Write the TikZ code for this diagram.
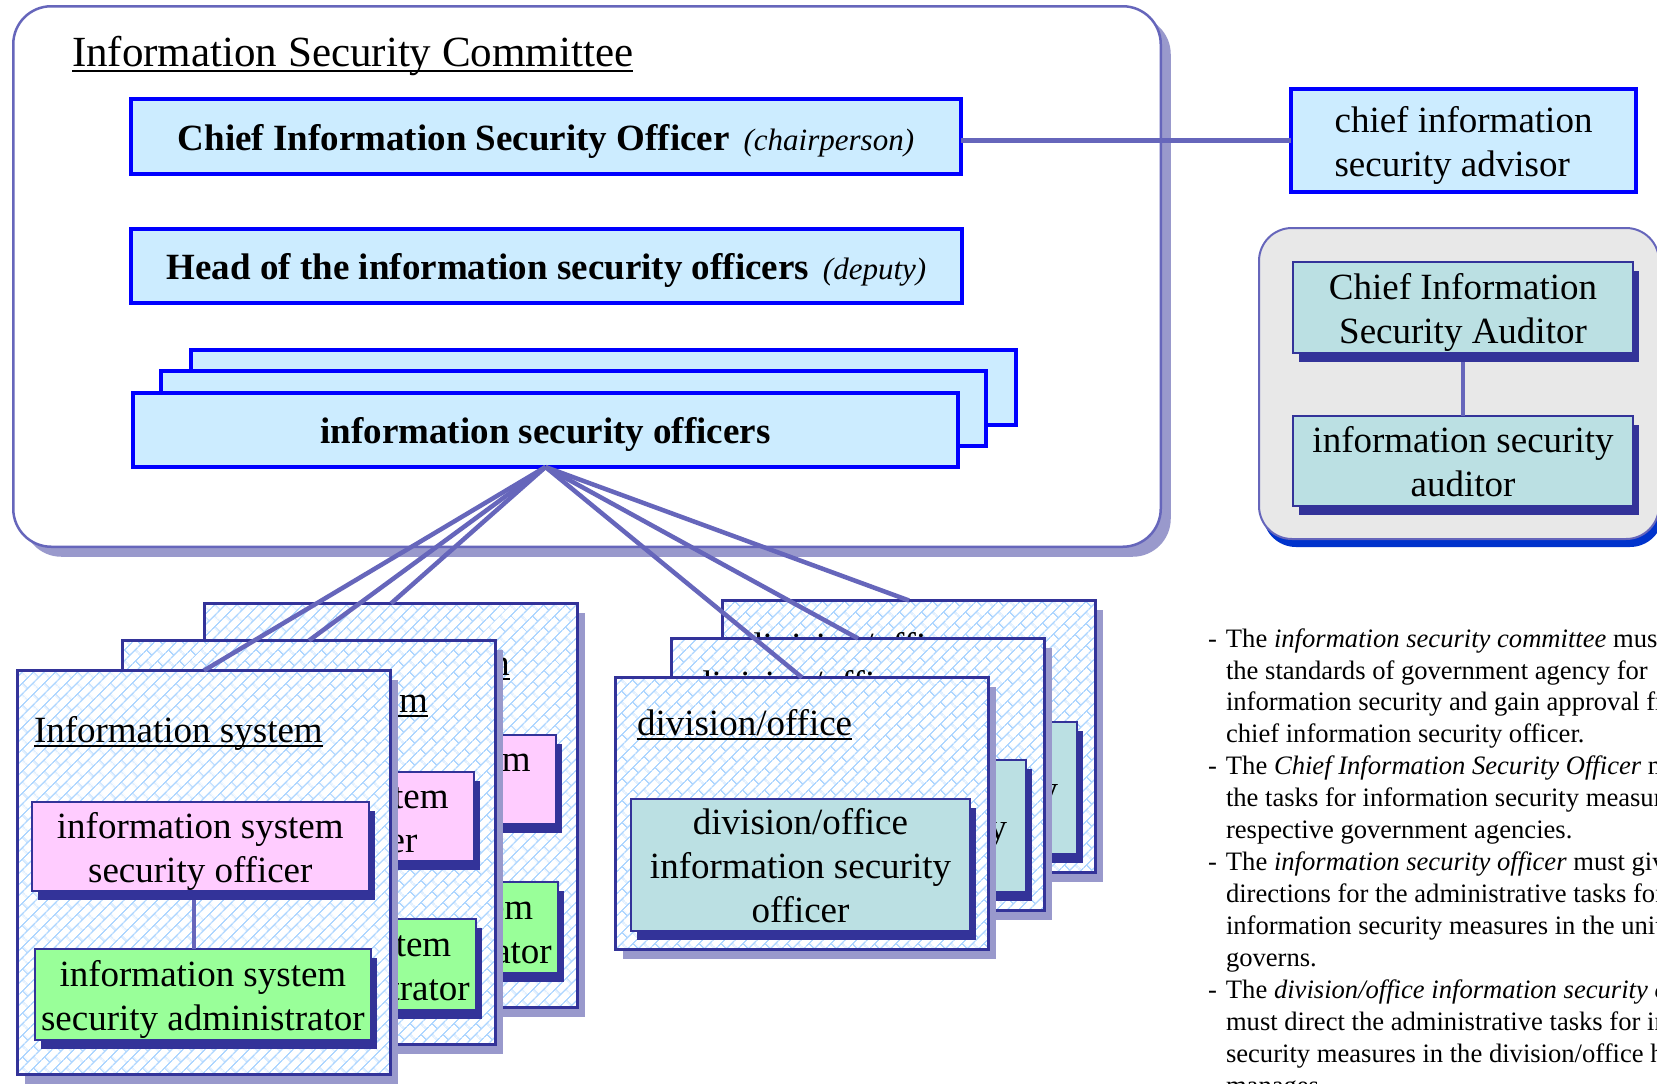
\documentclass[tikz,border=0pt]{standalone}
\usepackage{fontspec}
\setmainfont{Liberation Serif}
\usetikzlibrary{shadows,patterns.meta}

\definecolor{linkline}{HTML}{6666BB}
\definecolor{paleshade}{HTML}{9999CC}
\definecolor{navy}{HTML}{333399}
\definecolor{pureblue}{HTML}{0000FF}
\definecolor{skyfill}{HTML}{CCECFF}
\definecolor{tealfill}{HTML}{BBE0E3}
\definecolor{pinkfill}{HTML}{FFCCFF}
\definecolor{greenfill}{HTML}{99FF99}
\definecolor{greyfill}{HTML}{E8E8E8}
\definecolor{hatchblue}{HTML}{AED6FF}
\definecolor{deepshadow}{HTML}{0033CC}

% diagonal brick hatching for the unit cards
\pgfdeclarepattern{
  name=diagbrick,
  type=uncolored,
  bottom left={\pgfpoint{0pt}{0pt}},
  top right={\pgfpoint{16pt}{16pt}},
  tile size={\pgfpoint{16pt}{16pt}},
  tile transformation={\pgftransformrotate{45}},
  code={
    \pgfsetlinewidth{1.4pt}
    \pgfpathmoveto{\pgfpoint{0pt}{4pt}}\pgfpathlineto{\pgfpoint{16pt}{4pt}}
    \pgfpathmoveto{\pgfpoint{0pt}{12pt}}\pgfpathlineto{\pgfpoint{16pt}{12pt}}
    \pgfpathmoveto{\pgfpoint{4pt}{4pt}}\pgfpathlineto{\pgfpoint{4pt}{12pt}}
    \pgfpathmoveto{\pgfpoint{12pt}{12pt}}\pgfpathlineto{\pgfpoint{12pt}{16pt}}
    \pgfpathmoveto{\pgfpoint{12pt}{0pt}}\pgfpathlineto{\pgfpoint{12pt}{4pt}}
    \pgfusepath{stroke}
  }
}

% strut that gives a line of box text a fixed ascent and descent
\newcommand\linestrut{\rule[-8pt]{0pt}{43pt}}
% underline set close to the baseline
\newsavebox\ulinebox
\newcommand\ulined[1]{\sbox\ulinebox{#1}\rlap{\rule[-5.2pt]{\wd\ulinebox}{1.8pt}}\usebox\ulinebox}

\tikzset{
  every node/.style={inner sep=0pt, outer sep=0pt},
  bodyfont/.style={font=\fontsize{37}{44}\selectfont},
  notefont/.style={font=\fontsize{26.6}{32}\selectfont},
  boxtext/.style={bodyfont, align=center},
  bluebox/.style={boxtext, draw=pureblue, line width=4.5pt, fill=skyfill},
  darkshadow/.style={general shadow={fill=navy, shadow xshift=6pt, shadow yshift=-9pt}},
  pinkbox/.style={boxtext, draw=navy, line width=2pt, fill=pinkfill, darkshadow},
  greenbox/.style={boxtext, draw=navy, line width=2pt, fill=greenfill, darkshadow},
  tealbox/.style={boxtext, draw=navy, line width=2pt, fill=tealfill, darkshadow},
  card/.style={general shadow={fill=paleshade, shadow xshift=7pt, shadow yshift=-9pt},
    preaction={fill=white},
    preaction={pattern=diagbrick, pattern color=hatchblue},
    draw=navy, line width=3pt},
  panel/.style={draw=linkline, line width=2.5pt, fill=white},
  link/.style={draw=linkline, line width=4.5pt},
  sublink/.style={draw=linkline, line width=4pt},
  noteline/.style={notefont, anchor=base west},
}

\begin{document}
\begin{tikzpicture}[x=1pt,y=-1pt]
\path[use as bounding box, fill=white] (0,0) rectangle (1657,1084);
\clip (0,0) rectangle (1657,1084);

% ---------- information security committee ----------
\node[panel, minimum width=1147.5pt, minimum height=540.5pt, rounded corners=38pt,
      general shadow={fill=paleshade, shadow xshift=10pt, shadow yshift=-10pt}]
      (committee) at (587,276.5) {};
\node[anchor=base west, font=\fontsize{43}{50}\selectfont] (committeetitle) at (72,66.7)
      {\ulined{Information Security Committee}};

\node[bluebox, minimum width=830pt, minimum height=75pt] (ciso) at (546,136.5)
      {\linestrut\textbf{Chief Information Security Officer}\hspace{14pt}{\fontsize{31}{44}\selectfont\textit{(chairperson)}}};
\node[bluebox, minimum width=831pt, minimum height=74pt] (head) at (546.5,266)
      {\linestrut\textbf{Head of the information security officers}\hspace{14pt}{\fontsize{31}{44}\selectfont\textit{(deputy)}}};

\node[bluebox, minimum width=825pt, minimum height=75pt] (secoff3) at (603.5,387.5) {};
\node[bluebox, minimum width=825pt, minimum height=75pt] (secoff2) at (573.5,408.5) {};
\node[bluebox, minimum width=825pt, minimum height=74pt] (secoff1) at (545.5,430)
      {\linestrut\textbf{information security officers}};

% ---------- advisor ----------
\node[bluebox, align=left, minimum width=345pt, minimum height=103pt] (advisor) at (1463.5,140.5)
      {\linestrut chief information\\security advisor\linestrut};
\draw[link] (advisor.west -| ciso.east) -- (advisor.west);

% ---------- auditors ----------
\node[draw=linkline, line width=2pt, fill=greyfill, rounded corners=33pt,
      minimum width=400pt, minimum height=311pt,
      general shadow={fill=deepshadow, shadow xshift=4pt, shadow yshift=-8pt}]
      (auditgroup) at (1459,383.5) {};
\node[tealbox, minimum width=340pt, minimum height=91pt] (chiefaud) at (1463,307.5)
      {\linestrut Chief Information\\Security Auditor\linestrut};
\node[tealbox, minimum width=340pt, minimum height=90pt] (auditor) at (1463,461)
      {\linestrut information security\\auditor\linestrut};
\draw[sublink, shorten <=9pt] (chiefaud.south) -- (auditor.north);

% ---------- information systems ----------
\foreach \n/\x/\y in {3/203/602,2/121/639,1/16/669}{
  \begin{scope}[shift={(\x,\y)}]
    \node[card, minimum width=373pt, minimum height=404pt] (sys\n) at (188,203.5) {};
    \node[anchor=base west, bodyfont] (systitle\n) at (18,73) {\ulined{Information system}};
    \node[pinkbox, minimum width=337pt, minimum height=89pt] (sysoff\n) at (184.3,177.5)
          {\linestrut information system\\security officer\linestrut};
    \node[greenbox, minimum width=336pt, minimum height=91pt] (sysadm\n) at (186.9,325.5)
          {\linestrut information system\\security administrator\linestrut};
    \draw[sublink, shorten <=9pt] ([xshift=-6pt]sysoff\n.south) -- ([xshift=-6pt]sysoff\n.south |- sysadm\n.north);
  \end{scope}
}

% ---------- divisions / offices ----------
\foreach \n/\x/\y in {3/721/599,2/670/637,1/614/676}{
  \begin{scope}[shift={(\x,\y)}]
    \node[card, minimum width=373pt, minimum height=272pt] (div\n) at (188,137.5) {};
    \node[anchor=base west, bodyfont] (divtitle\n) at (23,59) {\ulined{division/office}};
    \node[tealbox, minimum width=339pt, minimum height=132pt] (divoff\n) at (186.5,189)
          {\linestrut division/office\\information security\\officer\linestrut};
  \end{scope}
}

% ---------- reporting lines ----------
\foreach \n in {1,2,3}{
  \draw[link] (secoff1.south) -- (sys\n.north);
  \draw[link] (secoff1.south) -- (div\n.north);
}

% ---------- notes ----------
\node[noteline] (note1) at (1208,647) {\makebox[18pt][l]{-}The \textit{information security committee} must establish};
\node[noteline] (note2) at (1226,679) {the standards of government agency for};
\node[noteline] (note3) at (1226,710.9) {information security and gain approval from the};
\node[noteline] (note4) at (1226,742.85) {chief information security officer.};
\node[noteline] (note5) at (1208,774.8) {\makebox[18pt][l]{-}The \textit{Chief Information Security Officer} must direct};
\node[noteline] (note6) at (1226,806.75) {the tasks for information security measures in the};
\node[noteline] (note7) at (1226,838.7) {respective government agencies.};
\node[noteline] (note8) at (1208,870.65) {\makebox[18pt][l]{-}The \textit{information security officer} must give};
\node[noteline] (note9) at (1226,902.6) {directions for the administrative tasks for};
\node[noteline] (note10) at (1226,934.55) {information security measures in the unit he/she};
\node[noteline] (note11) at (1226,966.5) {governs.};
\node[noteline] (note12) at (1208,998.45) {\makebox[18pt][l]{-}The \textit{division/office information security officer}};
\node[noteline] (note13) at (1226,1030.4) {must direct the administrative tasks for information};
\node[noteline] (note14) at (1226,1062.35) {security measures in the division/office he/she};
\node[noteline] (note15) at (1226,1094.3) {manages.};
\end{tikzpicture}
\end{document}
